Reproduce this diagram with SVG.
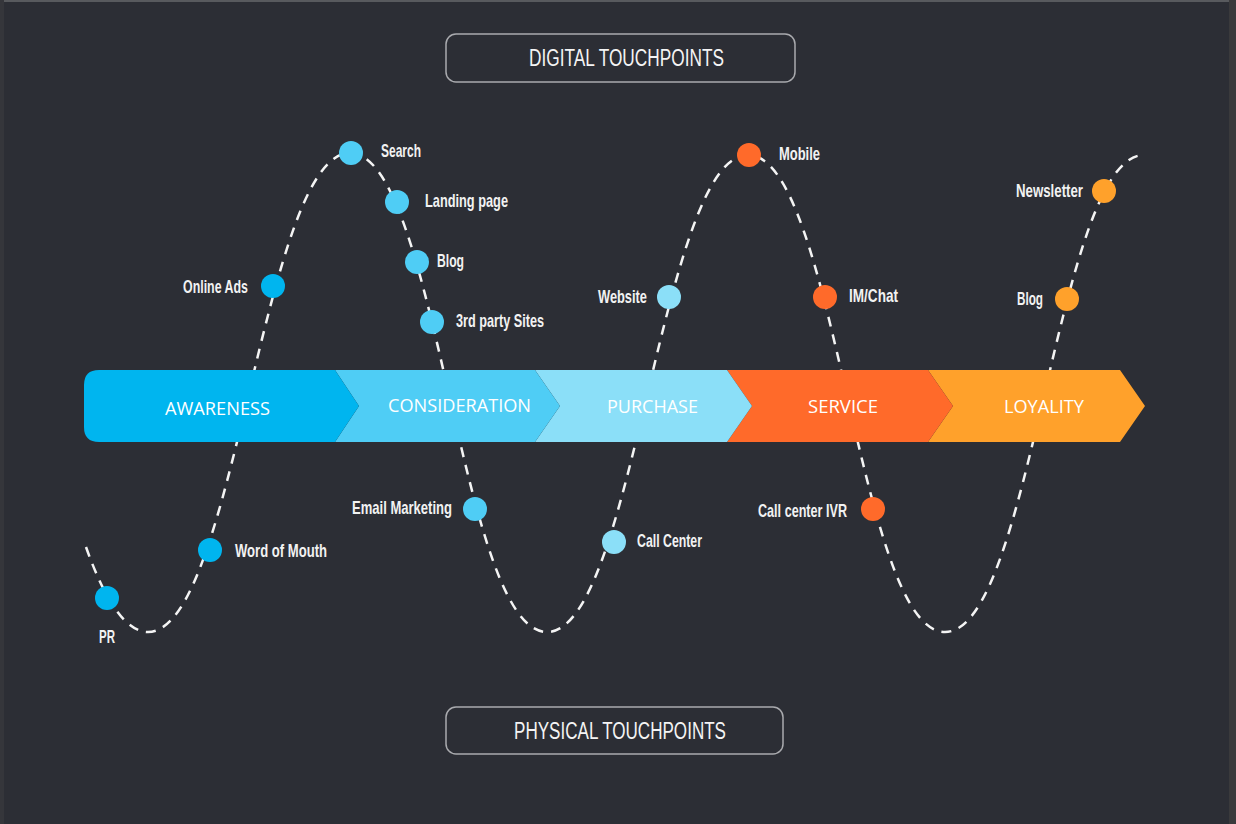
<svg xmlns="http://www.w3.org/2000/svg" width="1236" height="824" viewBox="0 0 1236 824">
<style>
.bg{fill:#2c2e35}
.hdr{fill:none;stroke:#a9aaae;stroke-width:1.5}
.hdrt{font-family:"Liberation Sans",Arial,sans-serif;font-size:23px;fill:#f4f4f4}
.stage{font-family:"Open Sans","Liberation Sans",sans-serif;font-size:17.5px;fill:#ffffff}
.lbl{font-family:"Liberation Sans",Arial,sans-serif;font-weight:bold;font-size:18.5px;fill:#f2f2f2}
.wave{fill:none;stroke:#f4f4f4;stroke-width:2.5;stroke-dasharray:10 8}
.c1{fill:#00b5ef}.c2{fill:#4fcdf5}.c3{fill:#8bdff8}.c4{fill:#ff6a2a}.c5{fill:#ffa12b}
</style>
<rect class="bg" x="0" y="0" width="1236" height="824"/>
<rect x="0" y="0" width="1236" height="2" fill="#585a5e"/>
<rect x="0" y="0" width="4" height="824" fill="#35363b"/>
<rect x="1229" y="0" width="7" height="824" fill="#3a3a3c"/>

<g id="connectors">
<path class="wave" d="M86,547 C104,598 125,632 148,632 C235,632 263,153 350,153 C437,153 460,632 547,632 C634,632 661,155 748,155 C835,155 858,632 945,632 C1032,632 1057,155 1144,155"/>
</g>

<g id="digital-touchpoints">
<rect class="hdr" x="446" y="34" width="349" height="48" rx="10"/>
<text class="hdrt" x="626.5" y="66" text-anchor="middle" textLength="195" lengthAdjust="spacingAndGlyphs">DIGITAL TOUCHPOINTS</text>
</g>
<g id="physical-touchpoints">
<rect class="hdr" x="446" y="707" width="337" height="47" rx="10"/>
<text class="hdrt" x="620" y="739" text-anchor="middle" textLength="212" lengthAdjust="spacingAndGlyphs">PHYSICAL TOUCHPOINTS</text>
</g>

<g id="stage-loyality">
<polygon class="c5" points="928,370 1120,370 1145,406 1120,442 928,442 953,406"/>
<text class="stage" x="1044" y="413" text-anchor="middle" textLength="80" lengthAdjust="spacingAndGlyphs">LOYALITY</text>
</g>
<g id="stage-service">
<polygon class="c4" points="727,370 928,370 953,406 928,442 727,442 752,406"/>
<text class="stage" x="843" y="413" text-anchor="middle" textLength="70" lengthAdjust="spacingAndGlyphs">SERVICE</text>
</g>
<g id="stage-purchase">
<polygon class="c3" points="535,370 727,370 752,406 727,442 535,442 560,406"/>
<text class="stage" x="652.5" y="413" text-anchor="middle" textLength="91" lengthAdjust="spacingAndGlyphs">PURCHASE</text>
</g>
<g id="stage-consideration">
<polygon class="c2" points="335,370 535,370 560,406 535,442 335,442 359,406"/>
<text class="stage" x="459.5" y="412" text-anchor="middle" textLength="143" lengthAdjust="spacingAndGlyphs">CONSIDERATION</text>
</g>
<g id="stage-awareness">
<path class="c1" d="M99,370 H335 L359,406 L335,442 H99 Q84,442 84,427 V385 Q84,370 99,370 Z"/>
<text class="stage" x="217.5" y="415" text-anchor="middle" textLength="105" lengthAdjust="spacingAndGlyphs">AWARENESS</text>
</g>

<g id="tp-pr"><circle class="c1" cx="107" cy="598" r="12"/><text class="lbl" x="99" y="643" textLength="16" lengthAdjust="spacingAndGlyphs">PR</text></g>
<g id="tp-word-of-mouth"><circle class="c1" cx="210" cy="550" r="12"/><text class="lbl" x="235" y="557" textLength="92" lengthAdjust="spacingAndGlyphs">Word of Mouth</text></g>
<g id="tp-online-ads"><circle class="c1" cx="273" cy="286" r="12"/><text class="lbl" x="183" y="293" textLength="65" lengthAdjust="spacingAndGlyphs">Online Ads</text></g>
<g id="tp-search"><circle class="c2" cx="351" cy="153" r="12"/><text class="lbl" x="381" y="157" textLength="40" lengthAdjust="spacingAndGlyphs">Search</text></g>
<g id="tp-landing-page"><circle class="c2" cx="397" cy="202" r="12"/><text class="lbl" x="425" y="207" textLength="83" lengthAdjust="spacingAndGlyphs">Landing page</text></g>
<g id="tp-blog-1"><circle class="c2" cx="417" cy="262" r="12"/><text class="lbl" x="437" y="267" textLength="27" lengthAdjust="spacingAndGlyphs">Blog</text></g>
<g id="tp-3rd-party"><circle class="c2" cx="432" cy="322" r="12"/><text class="lbl" x="456" y="327" textLength="88" lengthAdjust="spacingAndGlyphs">3rd party Sites</text></g>
<g id="tp-email"><circle class="c2" cx="475" cy="509" r="12"/><text class="lbl" x="352" y="514" textLength="100" lengthAdjust="spacingAndGlyphs">Email Marketing</text></g>
<g id="tp-call-center"><circle class="c3" cx="614" cy="542" r="12"/><text class="lbl" x="637" y="547" textLength="65" lengthAdjust="spacingAndGlyphs">Call Center</text></g>
<g id="tp-website"><circle class="c3" cx="669" cy="297" r="12"/><text class="lbl" x="598" y="303" textLength="49" lengthAdjust="spacingAndGlyphs">Website</text></g>
<g id="tp-mobile"><circle class="c4" cx="749" cy="155" r="12"/><text class="lbl" x="779" y="160" textLength="41" lengthAdjust="spacingAndGlyphs">Mobile</text></g>
<g id="tp-im-chat"><circle class="c4" cx="825" cy="297" r="12"/><text class="lbl" x="849" y="302" textLength="49" lengthAdjust="spacingAndGlyphs">IM/Chat</text></g>
<g id="tp-call-center-ivr"><circle class="c4" cx="873" cy="509" r="12"/><text class="lbl" x="758" y="517" textLength="89" lengthAdjust="spacingAndGlyphs">Call center IVR</text></g>
<g id="tp-newsletter"><circle class="c5" cx="1104" cy="191" r="12"/><text class="lbl" x="1016" y="197" textLength="67" lengthAdjust="spacingAndGlyphs">Newsletter</text></g>
<g id="tp-blog-2"><circle class="c5" cx="1067" cy="299" r="12"/><text class="lbl" x="1017" y="305" textLength="26" lengthAdjust="spacingAndGlyphs">Blog</text></g>
</svg>
